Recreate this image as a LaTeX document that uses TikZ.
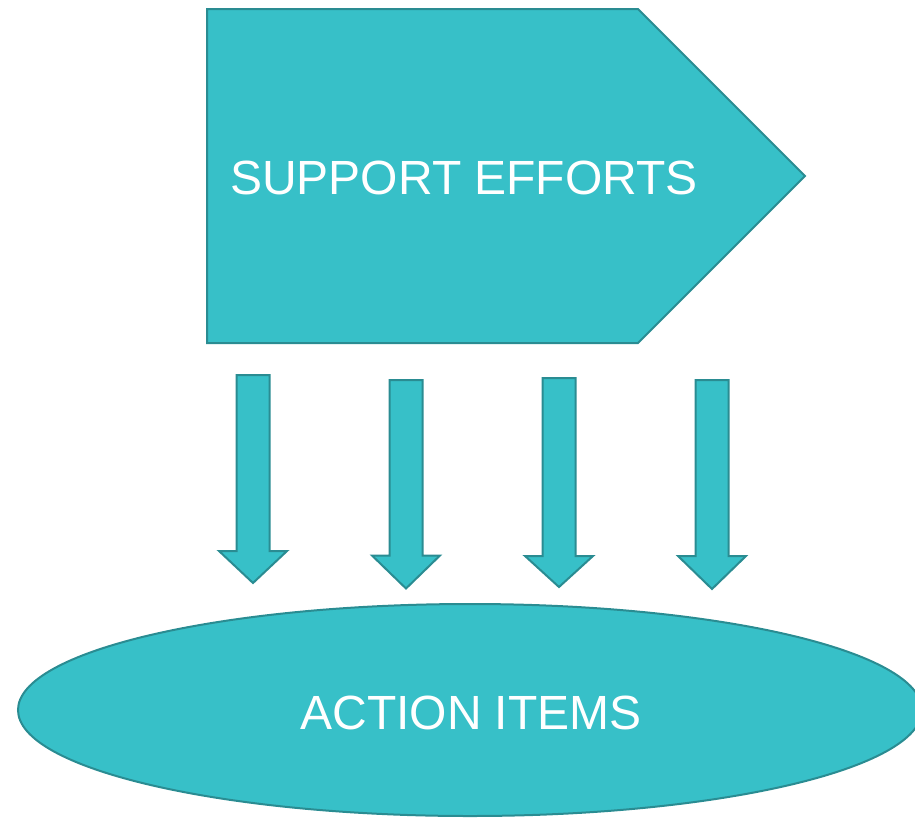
\documentclass[tikz,border=0pt]{standalone}
\usepackage{fontspec}
\setmainfont{Liberation Sans}
\usetikzlibrary{shapes.geometric}
\definecolor{tealfill}{HTML}{37C0C8}
\definecolor{tealedge}{HTML}{2A8C92}
\tikzset{
  blockshape/.style={fill=tealfill, draw=tealedge, line width=2pt, line join=miter},
  bigtext/.style={text=white, font=\fontsize{48}{56}\selectfont, inner sep=0pt},
}
\newcommand{\downarrowshape}[4]{% cx, top, base, tip
  \path[blockshape] (#1-16.5,#2) -- (#1+16.5,#2) -- (#1+16.5,#3) -- (#1+34,#3)
    -- (#1,#4) -- (#1-34,#3) -- (#1-16.5,#3) -- cycle;
}
\begin{document}
\begin{tikzpicture}[x=1pt,y=-1pt]
\useasboundingbox (0,0) rectangle (915,817);
\clip (0,0) rectangle (915,817);
% pentagon
\path[blockshape] (207,9) -- (638,9) -- (805,176) -- (638,343) -- (207,343) -- cycle;
\node[bigtext, anchor=base] (support) at (464,194) {SUPPORT EFFORTS};
% arrows
\downarrowshape{253}{375}{551}{583}
\downarrowshape{406}{380}{555.5}{588.5}
\downarrowshape{559}{378}{556}{587}
\downarrowshape{712}{380}{556}{589}
% ellipse
\node[blockshape, ellipse, minimum width=904pt, minimum height=212pt, inner sep=0pt] (action) at (470,710) {};
\node[bigtext, anchor=base] (actiontext) at (471,729) {ACTION ITEMS};
\end{tikzpicture}
\end{document}
